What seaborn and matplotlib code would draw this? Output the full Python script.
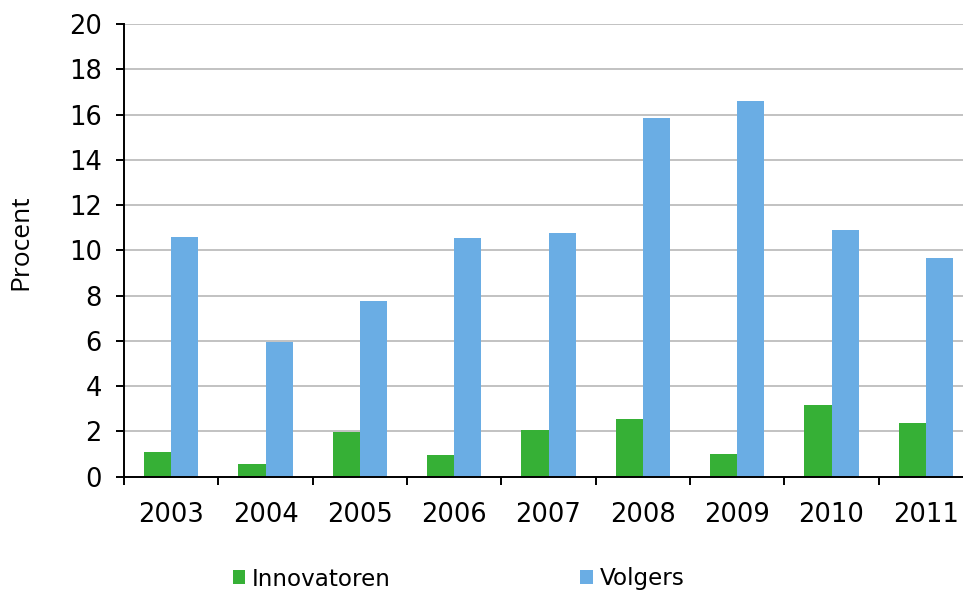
import pandas as pd
import numpy as np
import matplotlib
matplotlib.use('Agg')
import matplotlib.pyplot as plt
import seaborn as sns

# Data
years = ['2003', '2004', '2005', '2006', '2007', '2008', '2009', '2010', '2011']
innovatoren = [1.1, 0.57, 1.98, 0.98, 2.07, 2.54, 1.01, 3.18, 2.36]
volgers = [10.59, 5.96, 7.75, 10.56, 10.78, 15.85, 16.59, 10.91, 9.66]
series_names = ['Innovatoren', 'Volgers']
yticks = list(range(0, 21, 2))

COLORS = {
    'Innovatoren': '#36B036',  # green
    'Volgers': '#6AADE4',      # light blue
}

df = pd.DataFrame({
    'jaar': years * 2,
    'reeks': [series_names[0]] * len(years) + [series_names[1]] * len(years),
    'procent': innovatoren + volgers,
})

sns.set_style('white')
plt.rcParams['font.family'] = ['DejaVu Sans']
plt.rcParams['text.color'] = 'black'
plt.rcParams['axes.labelcolor'] = 'black'
plt.rcParams['xtick.color'] = 'black'
plt.rcParams['ytick.color'] = 'black'

fig = plt.figure(figsize=(9.63, 5.95), dpi=100)
ax = fig.add_axes([124 / 963, 118.3 / 595, 849 / 963, 452.7 / 595])

sns.barplot(data=df, x='jaar', y='procent', hue='reeks', order=years,
            hue_order=series_names, palette=COLORS, width=0.573, saturation=1,
            edgecolor='none', ax=ax, legend=True)

ax.set_xlim(-0.5, len(years) - 0.5)
ax.set_ylim(0, 20)
ax.set_yticks(yticks)
ax.yaxis.grid(True, color='#BDBDBD', linewidth=1.3)
ax.set_axisbelow(True)

for side in ['top', 'right']:
    ax.spines[side].set_visible(False)
for side in ['left', 'bottom']:
    ax.spines[side].set_color('black')
    ax.spines[side].set_linewidth(1.4)

# year labels at the centre, tick marks at the category boundaries
ax.set_xticks(np.arange(len(years)))
ax.set_xticks(np.arange(len(years) + 1) - 0.5, minor=True)
ax.tick_params(axis='x', which='major', length=0, pad=18, labelsize=18.5)
ax.tick_params(axis='x', which='minor', length=6, width=1.4, color='black',
               direction='out', bottom=True)
ax.tick_params(axis='y', length=6, width=1.4, color='black', direction='out',
               left=True, pad=10, labelsize=18.5)

ax.set_xlabel('')
ax.set_ylabel('Procent', fontsize=19, family='Open Sans')
ax.yaxis.set_label_coords(-0.107, 0.518)

handles, labels = ax.get_legend_handles_labels()
ax.get_legend().remove()
fig.legend(handles, labels, loc='center', bbox_to_anchor=(458.5 / 963, 1 - 579 / 595),
           ncol=2, frameon=False, fontsize=16.6, handlelength=0.55, handleheight=0.55,
           handletextpad=0.3, columnspacing=8.2)

fig.savefig('out.png', dpi=100)
plt.close(fig)
